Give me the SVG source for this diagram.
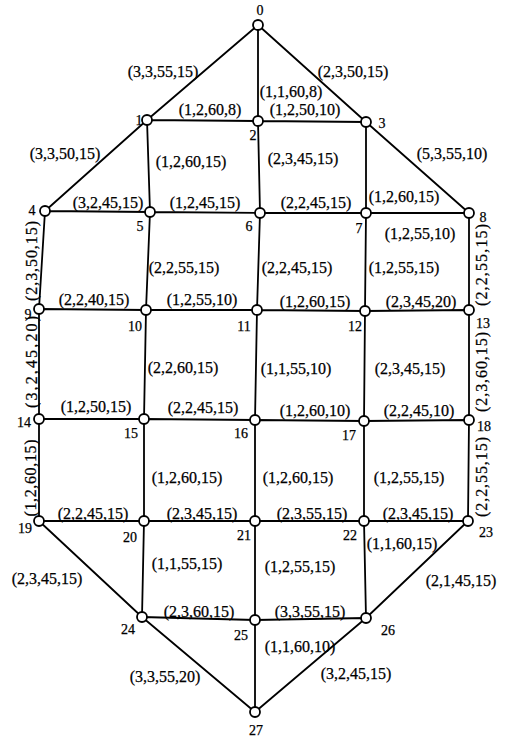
<svg xmlns="http://www.w3.org/2000/svg" width="506" height="737" viewBox="0 0 506 737">
<style>
.e{stroke:#000;stroke-width:1.8;fill:none;stroke-linecap:round}
.n{fill:#fff;stroke:#000;stroke-width:1.8}
.l{font-family:"Liberation Serif","Times New Roman",serif;font-size:16px;fill:#000;text-anchor:middle;stroke:#000;stroke-width:0.25}
.t{font-family:"Liberation Serif","Times New Roman",serif;font-size:14px;fill:#000;text-anchor:middle;stroke:#000;stroke-width:0.25}
</style>
<rect width="506" height="737" fill="#fff"/>
<g id="connectors" class="e">
<path d="M258 25L147 120M258 25L258 121M258 25L366 122M147 120L258 121L366 122M147 120L45 211M147 120L150 212M258 121L260 213M366 122L366 213M366 122L469 213"/>
<path d="M45 211L150 212L260 213L366 213L469 213M45 211L39 309M150 212L146 310M260 213L257 310M366 213L365 311M469 213L469 310"/>
<path d="M39 309L146 310L257 310L365 311L469 310M39 309L39 419M146 310L144 419M257 310L255 420M365 311L364 421M469 310L469 420"/>
<path d="M39 419L144 419L255 420L364 421L469 420M39 419L39 521M144 419L144 521M255 420L255 521M364 421L364 521M469 420L468 521"/>
<path d="M39 521L144 521L255 521L364 521L468 521M39 521L142 617M144 521L142 617M255 521L255 620M364 521L366 618M468 521L366 618"/>
<path d="M142 617L255 620L366 618M142 617L255 712M255 620L255 712M366 618L255 712"/>
</g>
<g id="edge-labels">
<text class="l" x="163" y="77">(3,3,55,15)</text>
<text class="l" x="353" y="77">(2,3,50,15)</text>
<text class="l" x="291" y="97">(1,1,60,8)</text>
<text class="l" x="210" y="115">(1,2,60,8)</text>
<text class="l" x="305" y="115">(1,2,50,10)</text>
<text class="l" x="65" y="159">(3,3,50,15)</text>
<text class="l" x="452" y="159">(5,3,55,10)</text>
<text class="l" x="191" y="167">(1,2,60,15)</text>
<text class="l" x="303" y="164">(2,3,45,15)</text>
<text class="l" x="108" y="208">(3,2,45,15)</text>
<text class="l" x="205" y="208">(1,2,45,15)</text>
<text class="l" x="316" y="208">(2,2,45,15)</text>
<text class="l" x="404" y="202">(1,2,60,15)</text>
<text class="l" x="420" y="239">(1,2,55,10)</text>
<text class="l" transform="translate(37,261) rotate(-90)" textLength="80">(2,3,50,15)</text>
<text class="l" x="184" y="273">(2,2,55,15)</text>
<text class="l" x="297" y="273">(2,2,45,15)</text>
<text class="l" x="404" y="273">(1,2,55,15)</text>
<text class="l" transform="translate(487,265) rotate(-90)" textLength="82">(2,2,55,15)</text>
<text class="l" x="94" y="305">(2,2,40,15)</text>
<text class="l" x="202" y="305">(1,2,55,10)</text>
<text class="l" x="315" y="307">(1,2,60,15)</text>
<text class="l" x="421" y="307">(2,3,45,20)</text>
<text class="l" transform="translate(37,362) rotate(-90)" textLength="92">(3,2,45,20)</text>
<text class="l" x="183" y="373">(2,2,60,15)</text>
<text class="l" x="296" y="374">(1,1,55,10)</text>
<text class="l" x="410" y="374">(2,3,45,15)</text>
<text class="l" transform="translate(487,372) rotate(-90)" textLength="80">(2,3,60,15)</text>
<text class="l" x="96" y="412">(1,2,50,15)</text>
<text class="l" x="203" y="413">(2,2,45,15)</text>
<text class="l" x="315" y="416">(1,2,60,10)</text>
<text class="l" x="419" y="416">(2,2,45,10)</text>
<text class="l" transform="translate(36,478) rotate(-90)" textLength="77">(1,2,60,15)</text>
<text class="l" x="187" y="483">(1,2,60,15)</text>
<text class="l" x="298" y="483">(1,2,60,15)</text>
<text class="l" x="409" y="483">(1,2,55,15)</text>
<text class="l" transform="translate(487,477) rotate(-90)" textLength="80">(2,2,55,15)</text>
<text class="l" x="93" y="519">(2,2,45,15)</text>
<text class="l" x="202" y="519">(2,3,45,15)</text>
<text class="l" x="312" y="519">(2,3,55,15)</text>
<text class="l" x="418" y="519">(2,3,45,15)</text>
<text class="l" x="402" y="549">(1,1,60,15)</text>
<text class="l" x="187" y="569">(1,1,55,15)</text>
<text class="l" x="300" y="572">(1,2,55,15)</text>
<text class="l" x="47" y="584">(2,3,45,15)</text>
<text class="l" x="461" y="586">(2,1,45,15)</text>
<text class="l" x="199" y="617">(2,3,60,15)</text>
<text class="l" x="310" y="617">(3,3,55,15)</text>
<text class="l" x="300" y="652">(1,1,60,10)</text>
<text class="l" x="165" y="682">(3,3,55,20)</text>
<text class="l" x="356" y="679">(3,2,45,15)</text>
</g>
<g id="n0"><circle class="n" cx="258" cy="25" r="5"/><text class="t" x="260" y="15">0</text></g>
<g id="n1"><circle class="n" cx="147" cy="120" r="5"/><text class="t" x="139" y="125">1</text></g>
<g id="n2"><circle class="n" cx="258" cy="121" r="5"/><text class="t" x="253" y="140">2</text></g>
<g id="n3"><circle class="n" cx="366" cy="122" r="5"/><text class="t" x="382" y="128">3</text></g>
<g id="n4"><circle class="n" cx="45" cy="211" r="5"/><text class="t" x="32" y="215">4</text></g>
<g id="n5"><circle class="n" cx="150" cy="212" r="5"/><text class="t" x="140" y="231">5</text></g>
<g id="n6"><circle class="n" cx="260" cy="213" r="5"/><text class="t" x="249" y="231">6</text></g>
<g id="n7"><circle class="n" cx="366" cy="213" r="5"/><text class="t" x="359" y="233">7</text></g>
<g id="n8"><circle class="n" cx="469" cy="213" r="5"/><text class="t" x="483" y="222">8</text></g>
<g id="n9"><circle class="n" cx="39" cy="309" r="5"/><text class="t" x="28" y="319">9</text></g>
<g id="n10"><circle class="n" cx="146" cy="310" r="5"/><text class="t" x="135" y="331">10</text></g>
<g id="n11"><circle class="n" cx="257" cy="310" r="5"/><text class="t" x="244" y="331">11</text></g>
<g id="n12"><circle class="n" cx="365" cy="311" r="5"/><text class="t" x="355" y="331">12</text></g>
<g id="n13"><circle class="n" cx="469" cy="310" r="5"/><text class="t" x="483" y="328">13</text></g>
<g id="n14"><circle class="n" cx="39" cy="419" r="5"/><text class="t" x="24" y="427">14</text></g>
<g id="n15"><circle class="n" cx="144" cy="419" r="5"/><text class="t" x="131" y="438">15</text></g>
<g id="n16"><circle class="n" cx="255" cy="420" r="5"/><text class="t" x="241" y="438">16</text></g>
<g id="n17"><circle class="n" cx="364" cy="421" r="5"/><text class="t" x="349" y="440">17</text></g>
<g id="n18"><circle class="n" cx="469" cy="420" r="5"/><text class="t" x="484" y="431">18</text></g>
<g id="n19"><circle class="n" cx="39" cy="521" r="5"/><text class="t" x="25" y="533">19</text></g>
<g id="n20"><circle class="n" cx="144" cy="521" r="5"/><text class="t" x="130" y="542">20</text></g>
<g id="n21"><circle class="n" cx="255" cy="521" r="5"/><text class="t" x="244" y="540">21</text></g>
<g id="n22"><circle class="n" cx="364" cy="521" r="5"/><text class="t" x="350" y="540">22</text></g>
<g id="n23"><circle class="n" cx="468" cy="521" r="5"/><text class="t" x="486" y="537">23</text></g>
<g id="n24"><circle class="n" cx="142" cy="617" r="5"/><text class="t" x="128" y="634">24</text></g>
<g id="n25"><circle class="n" cx="255" cy="620" r="5"/><text class="t" x="241" y="640">25</text></g>
<g id="n26"><circle class="n" cx="366" cy="618" r="5"/><text class="t" x="388" y="635">26</text></g>
<g id="n27"><circle class="n" cx="255" cy="712" r="5"/><text class="t" x="256" y="735">27</text></g>
</svg>
